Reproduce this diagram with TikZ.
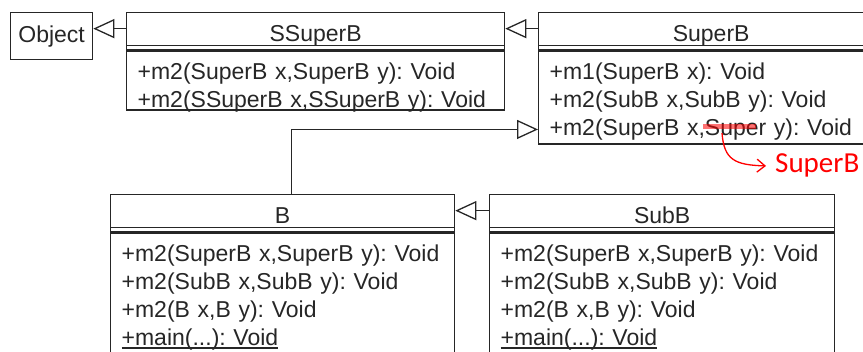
\documentclass[tikz,border=0pt]{standalone}
\usepackage{fontspec}
\setmainfont{Liberation Sans}
\newfontfamily\notefont{Carlito}
\usetikzlibrary{arrows.meta}
\usetikzlibrary{positioning}
\frenchspacing
\def\umlsize{\fontsize{23}{28}\selectfont}
\newsavebox\umlbox
\newcommand\umlstatic[1]{\leavevmode\sbox\umlbox{#1}\rlap{\rule[-2.6pt]{\wd\umlbox}{1.1pt}}\usebox\umlbox}

\begin{document}
\begin{tikzpicture}[x=1pt,y=-1pt,
			every node/.style={font=\umlsize,text=black!85},
			uml/.style={draw=black!85,line width=1.3pt,inner sep=0pt,anchor=north west},
			classhead/.style={uml,minimum width=#1,minimum height=37pt,text height=21pt,text depth=0pt},
			classbody/.style={uml,text width=#1,inner xsep=11pt,align=left,text height=29pt},
			inherits/.style={draw=black!85,line width=1.3pt,-{Triangle[open,length=21pt,width=19pt]}},
			note/.style={red,line width=1.3pt}]
			\useasboundingbox (0,0) rectangle (863,352);
			\clip (0,0) rectangle (863,352);
			
			\node[uml,minimum width=82pt,minimum height=47pt] (obj) at (10,12) {Object};
			
			\node[classhead=378pt] (ssh) at (126,12) {SSuperB};
			\node[classbody=356pt,text depth=30pt,below right=0pt and 0pt of ssh.south west] (ssb)
				{+m2(SuperB x,SuperB y): Void\\+m2(SSuperB x,SSuperB y): Void};
			
			\node[classhead=345pt] (sbh) at (538,12) {SuperB};
			\node[classbody=323pt,text depth=64pt,below right=0pt and 0pt of sbh.south west] (sbb)
				{+m1(SuperB x): Void\\+m2(SubB x,SubB y): Void\\+m2(SuperB x,Super y): Void};
			
			\node[classhead=344pt] (bh) at (110,194) {B};
			\node[classbody=322pt,text depth=111pt,below right=0pt and 0pt of bh.south west] (bb)
				{+m2(SuperB x,SuperB y): Void\\+m2(SubB x,SubB y): Void\\+m2(B x,B y): Void\\\umlstatic{+main(...): Void}};
			
			\node[classhead=345pt] (subh) at (489,194) {SubB};
			\node[classbody=323pt,text depth=111pt,below right=0pt and 0pt of subh.south west] (subb)
				{+m2(SuperB x,SuperB y): Void\\+m2(SubB x,SubB y): Void\\+m2(B x,B y): Void\\\umlstatic{+main(...): Void}};
			
			% second line under each class name
			\foreach \h in {ssh,sbh,bh,subh}
				\draw[uml] ([yshift=5pt]\h.south west) -- ([yshift=5pt]\h.south east);
			
			\path
			([yshift=2.5pt]ssh.west) edge[inherits] ([yshift=2.5pt]ssh.west -| obj.east)
			([yshift=2.5pt]sbh.west) edge[inherits] ([yshift=2.5pt]sbh.west -| ssh.east)
			([yshift=2.5pt]subh.west) edge[inherits] ([yshift=2.5pt]subh.west -| bh.east);
			\draw[inherits] ([xshift=9pt]bh.north) |- ([yshift=-32pt]sbb.west);
			
			% correction of the last parameter
			\coordinate (strikeA) at (703,126.5);
			\coordinate (strikeB) at (756,126.5);
			\coordinate (strike) at (722,133);
			\draw[note,opacity=.55,line width=5pt] (strikeA) -- (strikeB);
			\node[font=\notefont\fontsize{29}{34}\selectfont,text=red,anchor=base west,inner sep=0pt] (fix) at (775,173) {SuperB};
			\draw[note,-{Straight Barb[length=8pt,width=13pt]}] (strike) .. controls (724,160) and (735,165) .. ([xshift=-9pt]fix.west);
			\end{tikzpicture}
\end{document}
